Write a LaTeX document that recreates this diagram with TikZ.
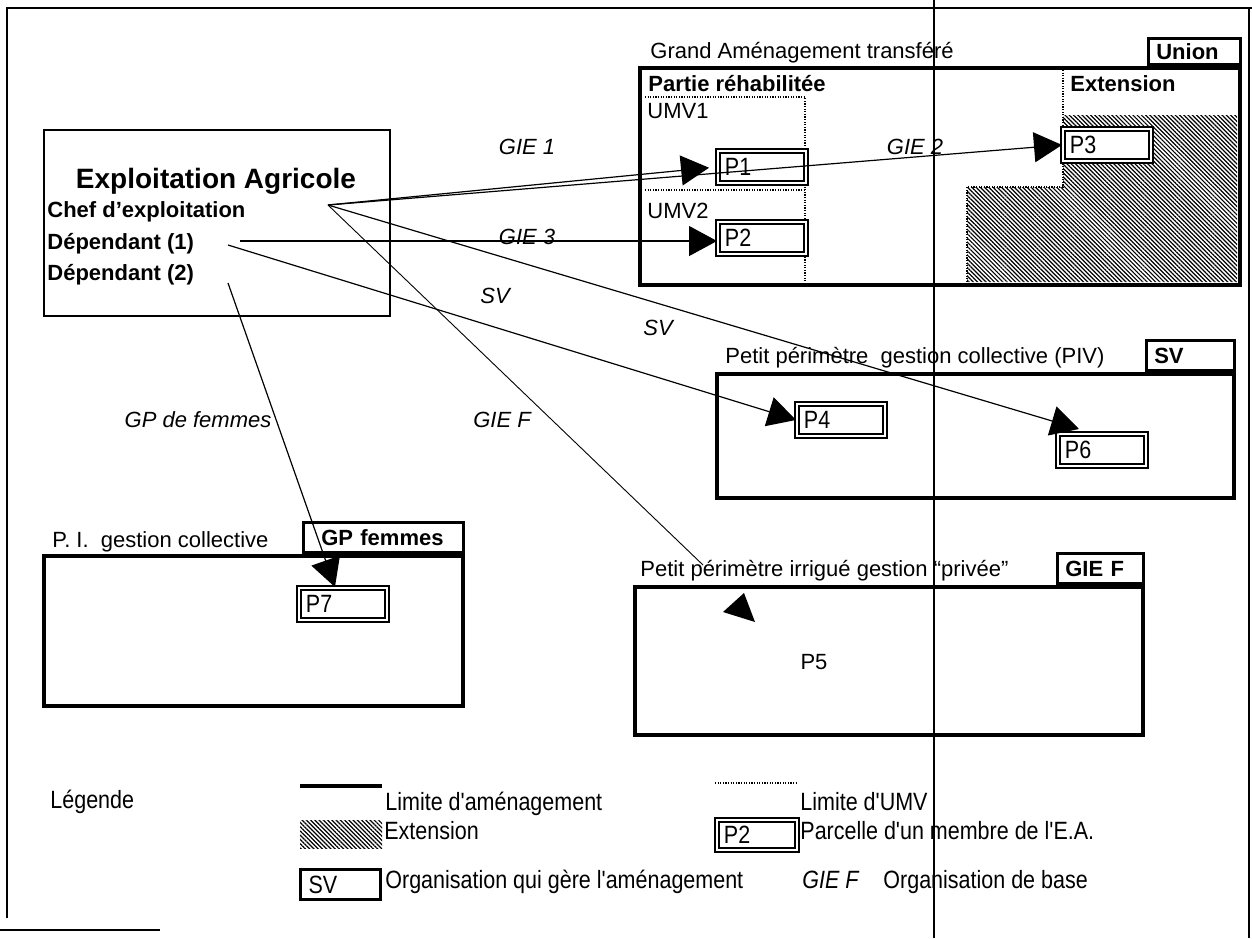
\documentclass[tikz,border=0pt]{standalone}
\usepackage{fontspec}
\setmainfont{Liberation Sans}
\newfontfamily\narrowfont[FakeStretch=0.86]{Liberation Sans}
\usetikzlibrary{arrows.meta,patterns.meta,fit,calc}
\begin{document}
\begin{tikzpicture}[x=0.5pt,y=-0.5pt,
  every node/.style={font=\fontsize{11pt}{13pt}\selectfont, inner sep=0pt},
  bigbox/.style={draw, line width=1.8pt, inner sep=0pt},
  eabox/.style={draw, line width=0.6pt, inner sep=0pt},
  orgbox/.style={draw, fill=white, line width=1.5pt, minimum height=14pt, align=left, inner xsep=4pt, font=\bfseries\fontsize{11pt}{13pt}\selectfont},
  parcel/.style={draw, double, double distance=1.2pt, line width=0.95pt, fill=white, anchor=north west, minimum height=16pt, text width=37pt, align=left, inner xsep=3.5pt, font=\narrowfont\fontsize{12.5pt}{14pt}\selectfont},
  title/.style={anchor=base west},
  btitle/.style={anchor=base west, font=\bfseries\fontsize{11pt}{13pt}\selectfont},
  lab/.style={font=\itshape\fontsize{11pt}{13pt}\selectfont},
  leg/.style={anchor=base west, font=\narrowfont\fontsize{12.5pt}{14pt}\selectfont},
  umv/.style={line width=1pt, dash pattern=on 0.6pt off 0.7pt},
  hatch/.style={pattern={Lines[angle=-45,distance=1.5pt,line width=0.6pt]}},
  conn/.style={line width=0.6pt, -{Triangle[length=14pt,width=15pt]}},
  thinconn/.style={line width=0.45pt}
]
\useasboundingbox (0,0) rectangle (1252,938);

% outer frame
\draw[line width=0.8pt] (7,918) -- (7,8) -- (1252,8);
\draw[line width=0.6pt] (1249,8) -- (1249,938);
\draw[line width=0.6pt] (0,930) -- (160,930);

% Exploitation agricole
\node[eabox, fit={(44,130) (390,316)}] (ea) {};
\node[font=\bfseries\fontsize{14pt}{16pt}\selectfont] (eatitle) at (216,181) {Exploitation Agricole};
\node[btitle] (chefl) at (47,217) {Chef d'exploitation};
\node[btitle] (dep1l) at (47,249) {Dépendant (1)};
\node[btitle] (dep2l) at (47,280) {Dépendant (2)};

% Grand amenagement
\node[bigbox, fit={(640,68) (1240,285)}] (ga) {};
\node[title] (gat) at (650,58) {Grand Aménagement transféré};
\fill[hatch] (1063,115) -- (1237,115) -- (1237,282) -- (967,282) -- (967,187) -- (1063,187) -- cycle;
\draw[umv] (1063,70) -- (1063,187) -- (967,187) -- (967,283);
\draw[umv] (645,97) -- (805,97) -- (805,283);
\draw[umv] (645,190) -- (805,190);
\node[btitle] (prh) at (648,91) {Partie réhabilitée};
\node[title] (umv1) at (647,118) {UMV1};
\node[title] (umv2) at (647,218) {UMV2};
\node[btitle] (ext) at (1070,91) {Extension};
\node[parcel] (p1) at (717,150) {P1};
\node[parcel] (p2) at (717,221) {P2};
\node[parcel] (p3) at (1062,128) {P3};
\node[orgbox, anchor=south east, text width=38pt, minimum height=13pt] (union) at (ga.north east) {Union};

% PIV
\node[bigbox, fit={(717,374) (1234,498)}] (piv) {};
\node[title] (pivt) at (725,363) {Petit périmètre\ \ gestion collective (PIV)};
\node[parcel] (p4) at (796,403) {P4};
\node[parcel] (p6) at (1057,433) {P6};
\node[orgbox, anchor=south east, text width=36pt, minimum height=15pt] (sv) at (piv.north east) {SV};

% P.I. gestion collective
\node[bigbox, fit={(44,556) (463,706)}] (pi) {};
\node[title] (pit) at (52,547) {P. I.\ \ gestion collective};
\node[parcel] (p7) at (298,587) {P7};
\node[orgbox, anchor=south east, text width=72pt, minimum height=15pt] (gpf) at (pi.north east) {\hspace*{5pt}GP femmes};

% Petit perimetre prive
\node[bigbox, fit={(635,587) (1143,735)}] (ppi) {};
\node[title] (ppit) at (640,576) {Petit périmètre irrigué gestion “privée”};
\node (p5) at (814,662) {P5};
\node[orgbox, anchor=south east, text width=35pt, minimum height=15pt] (gief) at (ppi.north east) {GIE F};

% connectors
\coordinate (chef) at (328,205);
\coordinate (depA) at (240,241);
\coordinate (depB) at (228,245);
\coordinate (depC) at (228,283);
\coordinate (giefend) at (703,565);
\draw[conn, shorten >=4pt] (chef) -- (p1.west);
\draw[conn] (chef) -- (p3.west);
\draw[conn] (depA) -- (depA -| p2.west);
\draw[conn] (depB) -- (p4.west);
\draw[conn] (chef) -- ($(p6.north west)+(11pt,2pt)$);
\draw[thinconn] (chef) -- (giefend);
\fill (723,612) -- (744,593) -- (755,622) -- cycle;
\draw[conn] (depC) -- ($(p7.north)+(-4pt,0pt)$);

\node[lab] (l1) at (527,147) {GIE 1};
\node[lab] (l2) at (915,147) {GIE 2};
\node[lab] (l3) at (527,237) {GIE 3};
\node[lab] (l4) at (495,296) {SV};
\node[lab] (l5) at (658,328) {SV};
\node[lab] (l6) at (502,420) {GIE F};
\node[lab] (l7) at (198,420) {GP de femmes};

% legend
\node[leg] (legt) at (50,808) {Légende};
\draw[line width=2pt] (300,786) -- (382,786);
\node[leg] (leg1) at (385,810) {Limite d'aménagement};
\draw[umv] (715,783) -- (797,783);
\node[leg] (leg2) at (800,810) {Limite d'UMV};
\node[hatch, fit={(300,820) (382,848)}, inner sep=0pt] (leghatch) {};
\node[leg] (leg3) at (384,839) {Extension};
\node[parcel, text width=33pt, minimum height=15pt] (legp) at (716,819) {P2};
\node[leg] (leg4) at (800,839) {Parcelle d'un membre de l'E.A.};
\node[orgbox, anchor=north west, text width=32pt, minimum height=15pt, font=\narrowfont\fontsize{12.5pt}{14pt}\selectfont] (legsv) at (299,868) {SV};
\node[leg] (leg5) at (385,888) {Organisation qui gère l'aménagement};
\node[leg, font=\narrowfont\itshape\fontsize{12.5pt}{14pt}\selectfont] (leg6) at (802,888) {GIE F};
\node[leg] (leg7) at (883,888) {Organisation de base};

% scan fold line
\draw[line width=0.8pt] (934,0) -- (934,938);
\end{tikzpicture}
\end{document}
